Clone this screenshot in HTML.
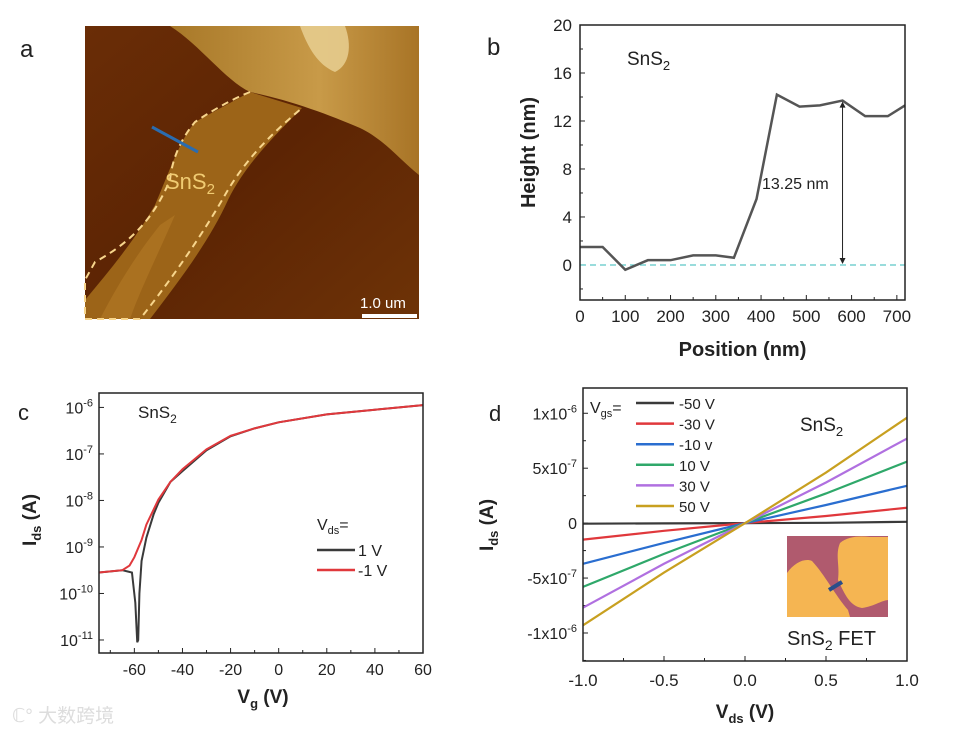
<!DOCTYPE html>
<html><head><meta charset="utf-8"><style>
html,body{margin:0;padding:0;background:#fff;}
svg{display:block;font-family:"Liberation Sans",Arial,sans-serif;}
</style></head><body>
<svg id="fig" width="969" height="732" viewBox="0 0 969 732" xmlns="http://www.w3.org/2000/svg">
<rect width="969" height="732" fill="#fff"/>
<!-- Panel a -->
<g>
<text x="20" y="57" font-size="24" fill="#222">a</text>
<defs>
<linearGradient id="bg" x1="0" y1="0" x2="1" y2="1"><stop offset="0" stop-color="#6a2d06"/><stop offset="0.5" stop-color="#5c2404"/><stop offset="1" stop-color="#6e3307"/></linearGradient>
<linearGradient id="hi" x1="0" y1="0" x2="1" y2="0"><stop offset="0" stop-color="#a87828"/><stop offset="0.6" stop-color="#c89a48"/><stop offset="1" stop-color="#a87426"/></linearGradient>
</defs>
<rect x="85" y="26" width="334" height="293" fill="url(#bg)"/>
<path d="M170 26 C200 45 225 80 250 92 C290 100 330 115 360 128 C385 140 400 160 419 175 L419 26 Z" fill="url(#hi)"/>
<path d="M300 26 L345 26 C352 45 350 65 335 72 C318 65 308 48 300 26 Z" fill="#e8cf92" opacity="0.85"/>
<path d="M250 92 L302 108 C275 135 245 165 228 200 C210 240 180 280 150 319 L85 319 L85 300 C110 270 135 240 155 205 C170 170 180 140 195 122 Z" fill="#9c6418"/>
<path d="M100 319 C120 280 140 250 160 225 L175 215 C160 250 140 290 130 319 Z" fill="#b07624" opacity="0.7"/>
<path d="M250 92 C230 100 210 112 195 122 C180 140 172 160 170 180 C155 215 135 240 95 262 L85 280 L85 319 L140 319 C175 275 205 230 225 195 C245 160 270 135 302 108" fill="none" stroke="#f7d58c" stroke-width="2" stroke-dasharray="7 5"/>
<line x1="152" y1="127" x2="198" y2="152" stroke="#2a6cb0" stroke-width="3"/>
<text x="165" y="189" font-size="22" fill="#f0cb72">SnS<tspan font-size="15" dy="5">2</tspan></text>
<text x="360" y="308" font-size="15" fill="#fff">1.0 um</text>
<rect x="362" y="314" width="55" height="4" fill="#fff"/>
</g>
<g id="pb"></g><g id="pc"></g><g id="pd"></g>
</svg>
<script>
const NS="http://www.w3.org/2000/svg";
function mk(p,tag,attrs,txt){const e=document.createElementNS(NS,tag);for(const k in attrs)e.setAttribute(k,attrs[k]);if(txt!==undefined)e.textContent=txt;p.appendChild(e);return e;}
function line(p,x1,y1,x2,y2,st,w){return mk(p,'line',{x1,y1,x2,y2,stroke:st||'#222','stroke-width':w||1});}

// ---------- Panel b data ----------
const bPos=[0,50,100,150,200,250,300,340,390,435,485,530,580,630,680,718];
const bHeight=[1.5,1.5,-0.4,0.4,0.4,0.8,0.8,0.6,5.5,14.2,13.2,13.3,13.7,12.4,12.4,13.3];
const bXTicks=[0,100,200,300,400,500,600,700];
const bYTicks=[0,4,8,12,16,20];
// ---------- Panel c data ----------
const cVgRed=[-75,-65,-62,-60,-57,-55,-50,-45,-40,-30,-20,-10,0,20,40,60];
const cLogRed=[-9.55,-9.5,-9.4,-9.22,-8.85,-8.52,-7.98,-7.6,-7.33,-6.9,-6.61,-6.45,-6.32,-6.15,-6.05,-5.95];
const cVgBlack=[-75,-65,-61,-59.6,-58.8,-58.4,-57.9,-57,-55,-52,-50,-45,-40,-30,-20,-10,0,20,40,60];
const cLogBlack=[-9.55,-9.5,-9.55,-10.2,-11.05,-11.0,-10.0,-9.3,-8.8,-8.3,-8.05,-7.6,-7.37,-6.92,-6.62,-6.45,-6.32,-6.15,-6.05,-5.95];
const cXTicks=[-60,-40,-20,0,20,40,60];
const cYTicks=[-6,-7,-8,-9,-10,-11];
// ---------- Panel d data ----------
const dVds=[-1,-0.5,0,0.5,1];
const dLabels=['-50 V','-30 V','-10 v','10 V','30 V','50 V'];
const dColors=['#3a3a3a','#e0383c','#2a6ed0','#2fa86a','#b070e0','#c8a020'];
const dI50n=[-0.005,-0.002,0,0.003,0.012];
const dI30n=[-0.15,-0.07,0,0.065,0.14];
const dI10n=[-0.37,-0.18,0,0.165,0.34];
const dI10=[-0.58,-0.28,0,0.27,0.56];
const dI30=[-0.77,-0.37,0,0.37,0.77];
const dI50=[-0.93,-0.45,0,0.46,0.96];
const dSeries=[dI50n,dI30n,dI10n,dI10,dI30,dI50];
const dXTicks=[-1,-0.5,0,0.5,1];
const dYTicks=[1,0.5,0,-0.5,-1];

// ===== Panel b =====
(function(){
const g=document.getElementById('pb');


const L=580,R=905,T=25,B=300,xmin=0,xmax=718,ymin=-2.92,ymax=20;
const X=v=>L+(v-xmin)/(xmax-xmin)*(R-L), Y=v=>B-(v-ymin)/(ymax-ymin)*(B-T);
const lab=mk(g,'text',{x:487,y:55,'font-size':24,fill:'#222'},'b');


bYTicks.forEach(t=>{line(g,L,Y(t),L+5,Y(t));line(g,L,Y(t-2),L+3,Y(t-2));
 const e=mk(g,'text',{x:L-8,y:Y(t)+6,'font-size':17,'text-anchor':'end',fill:'#222'},t);
 
 });
bXTicks.forEach(t=>{line(g,X(t),B,X(t),B-5);if(t+50<xmax)line(g,X(t+50),B,X(t+50),B-3);
 const e=mk(g,'text',{x:X(t),y:B+22,'font-size':17,'text-anchor':'middle',fill:'#222'},t);
 
 });
const zl=line(g,L,Y(0),R,Y(0),'#5cc8c8',1.3);zl.setAttribute('stroke-dasharray','6 4');


const pl=mk(g,'polyline',{points:bPos.map((p,i)=>X(p)+','+Y(bHeight[i])).join(' '),fill:'none',stroke:'#555','stroke-width':2.5});


const ax=X(bPos[12]);
line(g,ax,Y(bHeight[12])+2,ax,Y(0)-2,'#222',1);
mk(g,'path',{d:`M${ax-3} ${Y(bHeight[12])+7} L${ax} ${Y(bHeight[12])+1} L${ax+3} ${Y(bHeight[12])+7}Z M${ax-3} ${Y(0)-7} L${ax} ${Y(0)-1} L${ax+3} ${Y(0)-7}Z`,fill:'#222'});
const an=mk(g,'text',{x:762,y:189,'font-size':16,fill:'#222'},'13.25 nm');


const sn=mk(g,'text',{x:627,y:65,'font-size':19,fill:'#222'});sn.innerHTML='SnS<tspan font-size="13" dy="5">2</tspan>';


mk(g,'rect',{x:L,y:T,width:R-L,height:B-T,fill:'none',stroke:'#222','stroke-width':1.5});
const xt=mk(g,'text',{x:(L+R)/2,y:356,'font-size':20,'font-weight':'bold','text-anchor':'middle',fill:'#222'},'Position (nm)');


const yt=mk(g,'text',{x:0,y:0,'font-size':20,'font-weight':'bold','text-anchor':'middle',fill:'#222',transform:`translate(535,${(T+B)/2-10}) rotate(-90)`},'Height (nm)');


})();

// ===== Panel c =====
(function(){
const g=document.getElementById('pc');


const L=99,R=423,T=393,B=653,xmin=-74.7,xmax=60,ymin=-11.28,ymax=-5.69;
const X=v=>L+(v-xmin)/(xmax-xmin)*(R-L), Y=v=>B-(v-ymin)/(ymax-ymin)*(B-T);
const lab=mk(g,'text',{x:18,y:420,'font-size':22,fill:'#222'},'c');


cYTicks.forEach(t=>{line(g,L,Y(t),L+5,Y(t));
 const e=mk(g,'text',{x:L-6,y:Y(t)+6,'font-size':16,'text-anchor':'end',fill:'#222'});e.innerHTML='10<tspan font-size="11" dy="-7">'+t+'</tspan>';
 
 });
cXTicks.forEach(t=>{line(g,X(t),B,X(t),B-5);if(t<60)line(g,X(t+10),B,X(t+10),B-3);
 const e=mk(g,'text',{x:X(t),y:B+22,'font-size':16,'text-anchor':'middle',fill:'#222'},t);
 
 });
line(g,X(-70),B,X(-70),B-3);
const bl=mk(g,'polyline',{points:cVgBlack.map((v,i)=>X(Math.max(v,xmin))+','+Y(cLogBlack[i])).join(' '),fill:'none',stroke:'#3a3a3a','stroke-width':2});


const rd=mk(g,'polyline',{points:cVgRed.map((v,i)=>X(Math.max(v,xmin))+','+Y(cLogRed[i])).join(' '),fill:'none',stroke:'#e0383c','stroke-width':2});


mk(g,'rect',{x:L,y:T,width:R-L,height:B-T,fill:'none',stroke:'#222','stroke-width':1.5});
const sn=mk(g,'text',{x:138,y:418,'font-size':17,fill:'#222'});sn.innerHTML='SnS<tspan font-size="12" dy="5">2</tspan>';


const lt=mk(g,'text',{x:317,y:530,'font-size':16,fill:'#222'});lt.innerHTML='V<tspan font-size="11" dy="4">ds</tspan><tspan dy="-4">=</tspan>';


[['1 V','#3a3a3a',550],['-1 V','#e0383c',570]].forEach(([t,c,y])=>{
 line(g,317,y,355,y,c,2.5);
 const e=mk(g,'text',{x:358,y:y+6,'font-size':16,fill:'#222'},t);
 
 });
const xt=mk(g,'text',{x:263,y:703,'font-size':19,'font-weight':'bold','text-anchor':'middle',fill:'#222'});xt.innerHTML='V<tspan font-size="13" dy="5">g</tspan><tspan dy="-5"> (V)</tspan>';


const yt=mk(g,'text',{x:0,y:0,'font-size':19,'font-weight':'bold','text-anchor':'middle',fill:'#222',transform:'translate(36,520) rotate(-90)'});yt.innerHTML='I<tspan font-size="13" dy="5">ds</tspan><tspan dy="-5"> (A)</tspan>';


const wm=mk(g,'text',{x:12,y:722,'font-size':19,fill:'#ddd','font-family':'"Liberation Sans","Noto Sans CJK SC",sans-serif'},'ℂ° 大数跨境');


})();

// ===== Panel d =====
(function(){
const g=document.getElementById('pd');


const L=583,R=907,T=388,B=661,xmin=-1,xmax=1,ymin=-1.255,ymax=1.23;
const X=v=>L+(v-xmin)/(xmax-xmin)*(R-L), Y=v=>B-(v-ymin)/(ymax-ymin)*(B-T);
const lab=mk(g,'text',{x:489,y:421,'font-size':22,fill:'#222'},'d');


const yl={'1':'1x10<tspan font-size="11" dy="-7">-6</tspan>','0.5':'5x10<tspan font-size="11" dy="-7">-7</tspan>','0':'0','-0.5':'-5x10<tspan font-size="11" dy="-7">-7</tspan>','-1':'-1x10<tspan font-size="11" dy="-7">-6</tspan>'};
dYTicks.forEach(t=>{line(g,L,Y(t),L+5,Y(t));line(g,L,Y(t-0.25),L+3,Y(t-0.25));
 const e=mk(g,'text',{x:L-6,y:Y(t)+6,'font-size':16,'text-anchor':'end',fill:'#222'});e.innerHTML=yl[String(t)];
 
 });
dXTicks.forEach(t=>{line(g,X(t),B,X(t),B-5);if(t<1)line(g,X(t+0.25),B,X(t+0.25),B-3);
 const e=mk(g,'text',{x:X(t),y:B+25,'font-size':17,'text-anchor':'middle',fill:'#222'},t.toFixed(1));
 
 });
const ins=mk(g,'g',{});


mk(ins,'rect',{x:787,y:536,width:101,height:81,fill:'#b05a6e'});
mk(ins,'path',{d:'M787 573 C795 562 805 558 812 561 C825 575 835 595 848 610 L850 617 L787 617Z',fill:'#f5b552'});
mk(ins,'path',{d:'M840 543 C848 536 860 536 870 537 L888 537 L888 600 C880 601 875 606 862 608 C850 606 845 595 838 580 C840 565 835 555 840 543Z',fill:'#f5b552'});
line(ins,829,590,842,582,'#2a4e8a',4);
const it=mk(g,'text',{x:787,y:645,'font-size':20,fill:'#222'});it.innerHTML='SnS<tspan font-size="14" dy="5">2</tspan><tspan dy="-5"> FET</tspan>';


dSeries.forEach((s,k)=>{
 const p=mk(g,'polyline',{points:dVds.map((v,i)=>X(v)+','+Y(s[i])).join(' '),fill:'none',stroke:dColors[k],'stroke-width':2.2});
 
 
 const y=403+k*20.6;
 line(g,636,y,674,y,dColors[k],2.5);
 const e=mk(g,'text',{x:679,y:y+6,'font-size':15,fill:'#222'},dLabels[k]);
 
 
});
const lt=mk(g,'text',{x:590,y:413,'font-size':16,fill:'#222'});lt.innerHTML='V<tspan font-size="11" dy="4">gs</tspan><tspan dy="-4">=</tspan>';


const sn=mk(g,'text',{x:800,y:431,'font-size':19,fill:'#222'});sn.innerHTML='SnS<tspan font-size="13" dy="5">2</tspan>';


mk(g,'rect',{x:L,y:T,width:R-L,height:B-T,fill:'none',stroke:'#222','stroke-width':1.5});
const xt=mk(g,'text',{x:745,y:718,'font-size':19,'font-weight':'bold','text-anchor':'middle',fill:'#222'});xt.innerHTML='V<tspan font-size="13" dy="5">ds</tspan><tspan dy="-5"> (V)</tspan>';


const yt=mk(g,'text',{x:0,y:0,'font-size':19,'font-weight':'bold','text-anchor':'middle',fill:'#222',transform:'translate(493,525) rotate(-90)'});yt.innerHTML='I<tspan font-size="13" dy="5">ds</tspan><tspan dy="-5"> (A)</tspan>';


})();
</script>
</body></html>
